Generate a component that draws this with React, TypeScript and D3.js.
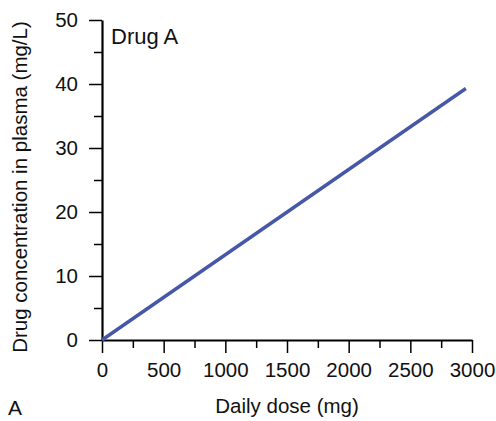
import React, { useEffect, useRef } from "react";
import * as d3 from "d3";

const doses = [0, 2950];
const concentrations = [0, 39.3];
const xMajorTicks = [0, 500, 1000, 1500, 2000, 2500, 3000];
const xMinorTicks = [250, 750, 1250, 1750, 2250, 2750];
const yMajorTicks = [0, 10, 20, 30, 40, 50];
const yMinorTicks = [5, 15, 25, 35, 45];

const width = 496;
const height = 421;
const margin = { top: 20, right: 24, bottom: 81, left: 102 };
const font = "'Liberation Sans', Arial, Helvetica, sans-serif";

export default function App() {
  const ref = useRef<SVGSVGElement>(null);

  useEffect(() => {
    const svg = d3.select(ref.current);
    svg.selectAll("*").remove();

    const xScale = d3
      .scaleLinear()
      .domain([0, 3000])
      .range([margin.left, width - margin.right]);
    const yScale = d3
      .scaleLinear()
      .domain([0, 50])
      .range([height - margin.bottom, margin.top]);

    const data = doses.map((d, i) => ({ x: d, y: concentrations[i] }));

    // minor ticks
    svg
      .append("g")
      .attr("transform", `translate(0, ${yScale(0)})`)
      .call(d3.axisBottom(xScale).tickValues(xMinorTicks).tickSize(8).tickFormat(() => ""))
      .call((g) => g.select(".domain").remove())
      .call((g) => g.selectAll("line").attr("stroke-width", 1.5));
    svg
      .append("g")
      .attr("transform", `translate(${xScale(0)}, 0)`)
      .call(d3.axisLeft(yScale).tickValues(yMinorTicks).tickSize(8).tickFormat(() => ""))
      .call((g) => g.select(".domain").remove())
      .call((g) => g.selectAll("line").attr("stroke-width", 1.5));

    // major axes
    const xAxis = svg
      .append("g")
      .attr("transform", `translate(0, ${yScale(0)})`)
      .call(
        d3.axisBottom(xScale).tickValues(xMajorTicks).tickSize(13).tickSizeOuter(0).tickPadding(9).tickFormat(d3.format("d"))
      );
    const yAxis = svg
      .append("g")
      .attr("transform", `translate(${xScale(0)}, 0)`)
      .call(
        d3.axisLeft(yScale).tickValues(yMajorTicks).tickSize(13).tickSizeOuter(0).tickPadding(11).tickFormat(d3.format("d"))
      );
    [xAxis, yAxis].forEach((g) => {
      g.select(".domain").attr("stroke-width", 2.2);
      g.selectAll("line").attr("stroke-width", 1.5);
      g.selectAll("text").attr("font-family", font).attr("font-size", 20.5).attr("fill", "#111");
    });

    svg
      .append("path")
      .datum(data)
      .attr("fill", "none")
      .attr("stroke", "#4757a7")
      .attr("stroke-width", 3.4)
      .attr(
        "d",
        d3
          .line<{ x: number; y: number }>()
          .x((d) => xScale(d.x))
          .y((d) => yScale(d.y))
      );

    const text = svg.append("g").attr("font-family", font).attr("fill", "#111").attr("font-size", 20.5);
    text.append("text").attr("x", 111).attr("y", 44).attr("font-size", 22).text("Drug A");
    text
      .append("text")
      .attr("x", (xScale(0) + xScale(3000)) / 2)
      .attr("y", 413)
      .attr("text-anchor", "middle")
      .text("Daily dose (mg)");
    text.append("text").attr("x", 8).attr("y", 415).attr("font-size", 21).text("A");
    text
      .append("text")
      .attr("transform", `translate(27, ${(yScale(0) + yScale(50)) / 2 + 7}) rotate(-90)`)
      .attr("text-anchor", "middle")
      .text("Drug concentration in plasma (mg/L)");
  }, []);

  return (
    <svg
      ref={ref}
      width={width}
      height={height}
      style={{ position: "absolute", left: 0, top: 0, background: "#fff" }}
    />
  );
}
